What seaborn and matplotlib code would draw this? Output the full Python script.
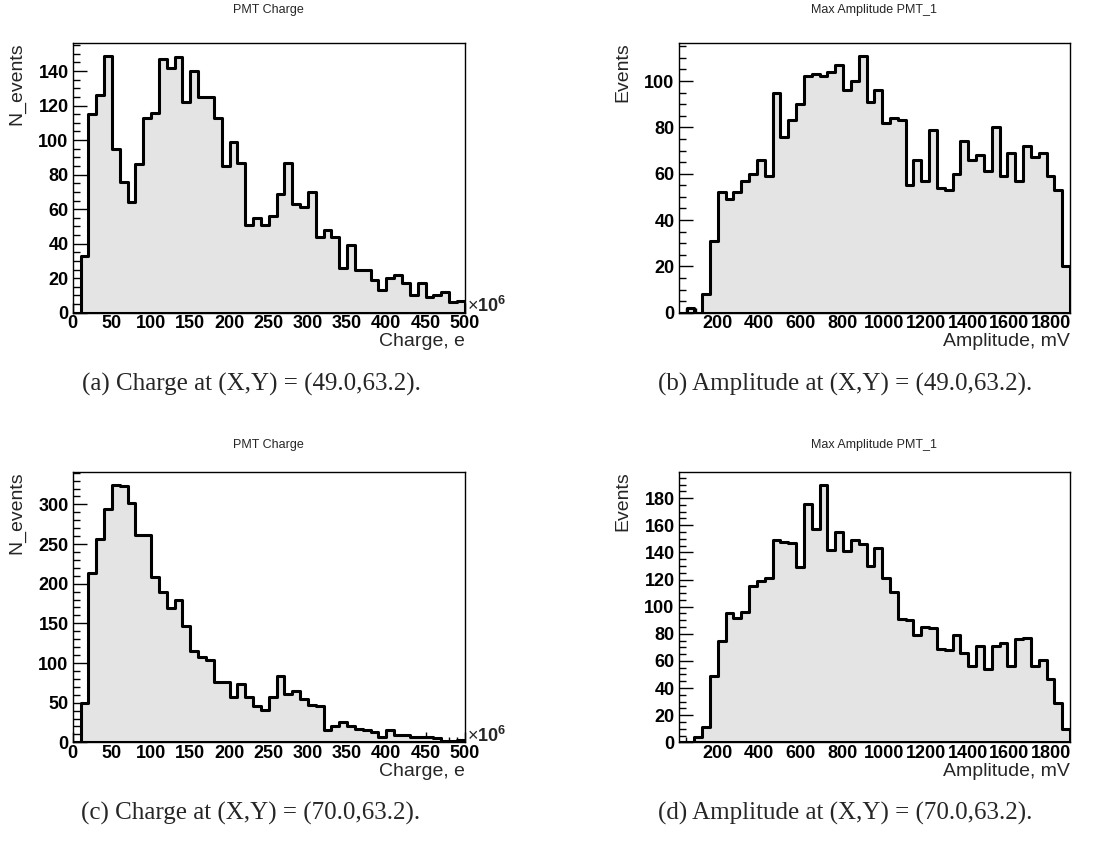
# PMT charge / max amplitude histograms, 2x2 panels with captions
import numpy as np
import pandas as pd
import seaborn as sns
import matplotlib
matplotlib.use('Agg')
import matplotlib.pyplot as plt
from matplotlib.ticker import MultipleLocator

# bin contents
charge_edges = np.arange(0, 501, 10)          # charge, x10^6 e
amp_edges = np.linspace(15, 1890, 51)         # amplitude, mV

charge_a = [0, 33, 115, 126, 149, 95, 76, 64, 86, 113,
            116, 147, 142, 148, 122, 140, 125, 125, 113, 85,
            99, 87, 51, 55, 51, 56, 69, 87, 63, 61,
            70, 44, 48, 44, 26, 39, 25, 25, 19, 13,
            20, 22, 17, 10, 17, 9, 10, 12, 6, 7]

amp_b = [0, 2, 0, 8, 31, 52, 49, 52, 57, 60,
         66, 59, 95, 76, 83, 90, 102, 103, 102, 104,
         107, 96, 100, 111, 91, 96, 82, 84, 83, 55,
         66, 57, 79, 54, 53, 60, 74, 66, 68, 61,
         80, 59, 69, 57, 72, 67, 69, 59, 53, 20]

charge_c = [0, 49, 213, 257, 294, 325, 323, 302, 262, 261,
            209, 189, 169, 179, 147, 115, 107, 104, 76, 76,
            57, 73, 57, 46, 41, 57, 83, 61, 65, 54,
            47, 46, 15, 21, 26, 20, 17, 15, 13, 7,
            16, 9, 9, 7, 7, 7, 5, 2, 2, 3]

amp_d = [0, 0, 4, 11, 49, 75, 95, 92, 96, 115,
         119, 121, 149, 148, 147, 129, 176, 157, 190, 142,
         155, 141, 149, 146, 130, 143, 121, 111, 91, 90,
         79, 85, 84, 69, 68, 79, 66, 56, 71, 54,
         71, 73, 56, 76, 77, 56, 61, 47, 29, 10]

titles = ['PMT Charge', 'Max Amplitude PMT_1', 'PMT Charge', 'Max Amplitude PMT_1']
xlabels = ['Charge, e', 'Amplitude, mV', 'Charge, e', 'Amplitude, mV']
ylabels = ['N_events', 'Events', 'N_events', 'Events']
captions = ['(a) Charge at (X,Y) = (49.0,63.2).',
            '(b) Amplitude at (X,Y) = (49.0,63.2).',
            '(c) Charge at (X,Y) = (70.0,63.2).',
            '(d) Amplitude at (X,Y) = (70.0,63.2).']

sns.set_style('white')
plt.rcParams['font.family'] = ['Liberation Sans', 'DejaVu Sans']
plt.rcParams['mathtext.fontset'] = 'custom'
plt.rcParams['mathtext.rm'] = 'Liberation Sans'
plt.rcParams['mathtext.bf'] = 'Liberation Sans:bold'

W, H = 1099, 848
fig = plt.figure(figsize=(W / 100, H / 100), dpi=100)


def px_axes(left, top, right, bottom):
    return fig.add_axes([left / W, 1 - bottom / H, (right - left) / W, (bottom - top) / H])


def draw(ax, counts, edges, xmaj, xmin, ymaj, ymin):
    centers = (edges[:-1] + edges[1:]) / 2
    df = pd.DataFrame({'x': centers, 'n': counts})
    sns.histplot(data=df, x='x', weights='n', bins=list(edges), element='step', fill=True,
                 facecolor='#e4e4e4', edgecolor='black', linewidth=2.2, ax=ax)
    ax.set_xlim(edges[0], edges[-1])
    ax.set_ylim(0, max(counts) * 1.05)
    xt = np.arange(0, edges[-1] + 1, xmaj)
    xt = xt[xt >= edges[0]]
    ax.set_xticks(xt, [str(int(v)) for v in xt], fontweight='bold')
    yt = np.arange(0, max(counts) * 1.05, ymaj)
    ax.set_yticks(yt, [str(int(v)) for v in yt], fontweight='bold')
    ax.xaxis.set_minor_locator(MultipleLocator(xmin))
    ax.yaxis.set_minor_locator(MultipleLocator(ymin))
    ax.tick_params(which='both', direction='in', bottom=True, left=True,
                   top=False, right=False, colors='black')
    ax.tick_params(axis='x', which='major', length=7, width=1, pad=2, labelsize=13)
    ax.tick_params(axis='x', which='minor', length=3.5, width=1)
    ax.tick_params(axis='y', which='major', length=10, width=1, pad=3, labelsize=13)
    ax.tick_params(axis='y', which='minor', length=5, width=1)
    for s in ax.spines.values():
        s.set_color('black')
        s.set_linewidth(1.0)


rows = [(42.7, 312.7), (471.7, 742.3)]
cols = [(72.7, 464.7), (678.7, 1070.0)]
title_y = [10, 445]
caption_y = [384, 813]
caption_x = [251, 845]

data = [charge_a, amp_b, charge_c, amp_d]
for i, counts in enumerate(data):
    r, c = divmod(i, 2)
    top, bottom = rows[r]
    left, right = cols[c]
    ax = px_axes(left, top, right, bottom)
    if c == 0:
        ymaj, ymin = (20, 5) if max(counts) < 200 else (50, 10)
        draw(ax, counts, charge_edges, 50, 10, ymaj, ymin)
        ax.text(1.005, 0.025, r'$\times\mathbf{10}^{\mathbf{6}}$', transform=ax.transAxes,
                fontsize=13, ha='left', va='center')
    else:
        draw(ax, counts, amp_edges, 200, 50, 20, 5)
    ax.set_xlabel(xlabels[i], loc='right', fontsize=14)
    ax.xaxis.set_label_coords(1.0, -0.077)
    ax.set_ylabel(ylabels[i], loc='top', fontsize=14)
    ax.yaxis.set_label_coords(-0.12, 1.0)
    fig.text((left + right) / 2 / W, 1 - title_y[r] / H, titles[i],
             ha='center', va='center', fontsize=9)
    fig.text(caption_x[c] / W, 1 - caption_y[r] / H, captions[i], ha='center', va='center',
             fontsize=18, family='Liberation Serif')

fig.savefig('out.png', dpi=100)
